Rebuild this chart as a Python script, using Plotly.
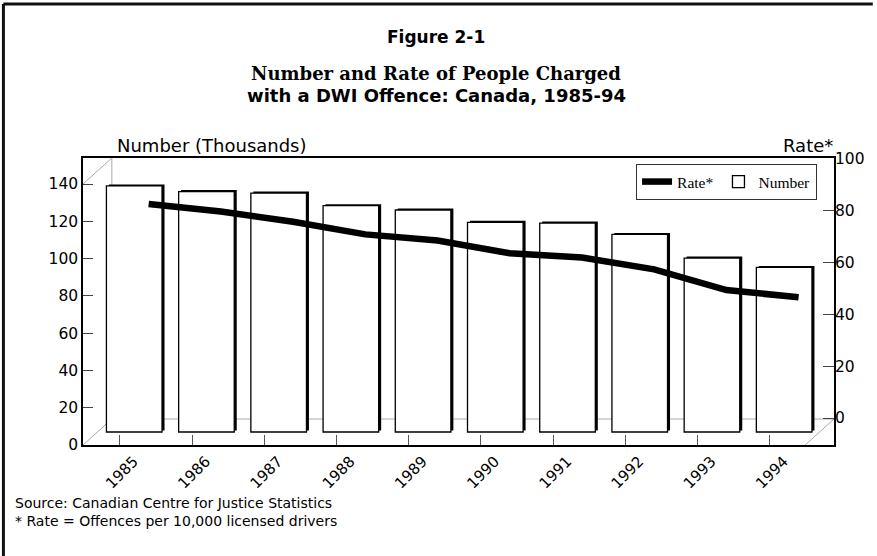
import plotly.graph_objects as go

# ---------------- data ----------------
years = ["1985", "1986", "1987", "1988", "1989", "1990", "1991", "1992", "1993", "1994"]
number_thousands = [132.0, 129.0, 128.2, 121.4, 119.1, 112.5, 112.1, 106.0, 93.3, 88.3]
rate_per_10000 = [82.6, 79.7, 75.8, 70.9, 68.5, 63.6, 62.0, 57.4, 49.4, 46.6]
left_ticks = [0, 20, 40, 60, 80, 100, 120, 140]
right_ticks = [0, 20, 40, 60, 80, 100]

# ---------------- geometry / style ----------------
W, H = 877, 556
L, R, T, B = 83, 838, 158, 445          # plot box in pixels
PW, PH = R - L, B - T
cat_px = 72.6                            # pixels per category
first_tick_px = 120                      # front-plane position of first category
depth_dx, depth_dy = 29, 26              # 3-D depth offset (back plane)
left_scale = 1.864                       # px per thousand (left axis)
right_scale = 2.59                       # px per rate unit (right axis)

r0 = -(first_tick_px - L) / cat_px
span = PW / cat_px


def xr(shift_px):
    s = shift_px / cat_px
    return [r0 - s, r0 + span - s]


def yr(zero_px_above_bottom, scale):
    return [-zero_px_above_bottom / scale, (PH - zero_px_above_bottom) / scale]


SANS = "DejaVu Sans"
SERIF = "DejaVu Serif"

fig = go.Figure()

# invisible anchor trace for the front-plane axes (carries the tick labels)
fig.add_trace(go.Scatter(
    x=years, y=number_thousands, xaxis="x", yaxis="y", mode="markers",
    marker=dict(opacity=0, size=1), showlegend=False, hoverinfo="skip"))

# bar shadow (3-D edge)
fig.add_trace(go.Bar(
    x=years, y=number_thousands, xaxis="x2", yaxis="y2",
    width=0.77, marker=dict(color="black", line=dict(width=0)),
    showlegend=False, hoverinfo="skip"))

# bars (mid depth)
fig.add_trace(go.Bar(
    x=years, y=number_thousands, xaxis="x3", yaxis="y3", name="Number",
    width=0.77, marker=dict(color="white", line=dict(color="black", width=1.3)),
    legendrank=2))

# rate line (back plane)
fig.add_trace(go.Scatter(
    x=years, y=rate_per_10000, xaxis="x4", yaxis="y4", name="Rate*",
    mode="lines", line=dict(color="black", width=6.5), legendrank=1))

axis_common = dict(showgrid=False, zeroline=False)

fig.update_layout(
    width=W, height=H,
    margin=dict(l=L, r=W - R, t=T, b=H - B),
    paper_bgcolor="white", plot_bgcolor="white",
    barmode="overlay",
    font=dict(family=SANS, size=15, color="black"),
    xaxis=dict(type="category", range=xr(0), tickangle=-45, ticks="inside", ticklen=10,
               tickcolor="#555", showline=True, mirror=True, linecolor="black",
               linewidth=1.5, ticklabelshift=14, ticklabelstandoff=0,
               tickfont=dict(family=SANS, size=15), **axis_common),
    yaxis=dict(range=yr(0, left_scale), tickmode="array", tickvals=left_ticks,
               ticks="inside", ticklen=10, tickcolor="#444", showline=True,
               mirror=True, linecolor="black", linewidth=1.5,
               tickfont=dict(family=SANS, size=15.5), **axis_common),
    xaxis2=dict(type="category", overlaying="x", range=xr(depth_dx / 2 + 2.5), visible=False),
    yaxis2=dict(overlaying="y", range=yr(depth_dy / 2 + 1.5, left_scale), visible=False),
    xaxis3=dict(type="category", overlaying="x", range=xr(depth_dx / 2), visible=False),
    yaxis3=dict(overlaying="y", range=yr(depth_dy / 2, left_scale), visible=False),
    xaxis4=dict(type="category", overlaying="x", range=xr(depth_dx), visible=False),
    yaxis4=dict(overlaying="y", side="right", anchor="x", range=yr(depth_dy + 1, right_scale),
                tickmode="array", tickvals=right_ticks, ticks="inside", ticklen=11,
                tickcolor="#444", showline=False,
                tickfont=dict(family=SANS, size=15.5), **axis_common),
    legend=dict(orientation="h", x=(639 - L) / PW, y=(B - 164) / PH,
                xanchor="left", yanchor="top", bgcolor="white",
                bordercolor="#333", borderwidth=1,
                font=dict(family="Liberation Serif", size=15.5),
                itemwidth=30, tracegroupgap=0),
)


def py(pix):
    return (B - pix) / PH


def px(pix):
    return (pix - L) / PW


ann = [
    dict(text="<b>Figure 2-1</b>", x=px(438), y=py(37), font=dict(family=SANS, size=17),
         xanchor="center"),
    dict(text="<b>Number and Rate of People Charged</b>", x=px(438), y=py(73),
         font=dict(family=SERIF, size=18), xanchor="center"),
    dict(text="<b>with a DWI Offence: Canada, 1985-94</b>", x=px(438), y=py(95),
         font=dict(family=SANS, size=18), xanchor="center"),
    dict(text="Number (Thousands)", x=px(115), y=py(146), font=dict(family=SANS, size=18),
         xanchor="left"),
    dict(text="Rate*", x=px(839), y=py(146), font=dict(family=SANS, size=18),
         xanchor="right"),
    dict(text="Source: Canadian Centre for Justice Statistics", x=px(13), y=py(503),
         font=dict(family=SANS, size=14), xanchor="left"),
    dict(text="* Rate = Offences per 10,000 licensed drivers", x=px(13), y=py(521),
         font=dict(family=SANS, size=14), xanchor="left"),
]
for a in ann:
    a.update(xref="paper", yref="paper", showarrow=False, yanchor="middle")
    fig.add_annotation(**a)

# 3-D wall decorations (gray)
dx, dy = depth_dx / PW, depth_dy / PH
gray = dict(color="#aaaaaa", width=1)
for (x0, y0, x1, y1) in [
    (dx, dy, dx, 1),          # back wall left edge
    (dx, dy, 1, dy),          # back floor edge
    (0, 0, dx, dy),           # bottom-left diagonal
    (0, 1 - dy, dx, 1),       # top-left diagonal
    (1 - dx, 0, 1, dy),       # bottom-right diagonal
]:
    fig.add_shape(type="line", xref="x domain", yref="y domain",
                  x0=x0, y0=y0, x1=x1, y1=y1, line=gray, layer="below")

# outer frame (top and left edges)
fig.add_shape(type="line", xref="paper", yref="paper", x0=px(3), y0=py(4), x1=px(877),
              y1=py(4), line=dict(color="#111", width=3))
fig.add_shape(type="line", xref="paper", yref="paper", x0=px(3), y0=py(4), x1=px(3),
              y1=py(556), line=dict(color="#111", width=3))

fig.write_html("out.html")
